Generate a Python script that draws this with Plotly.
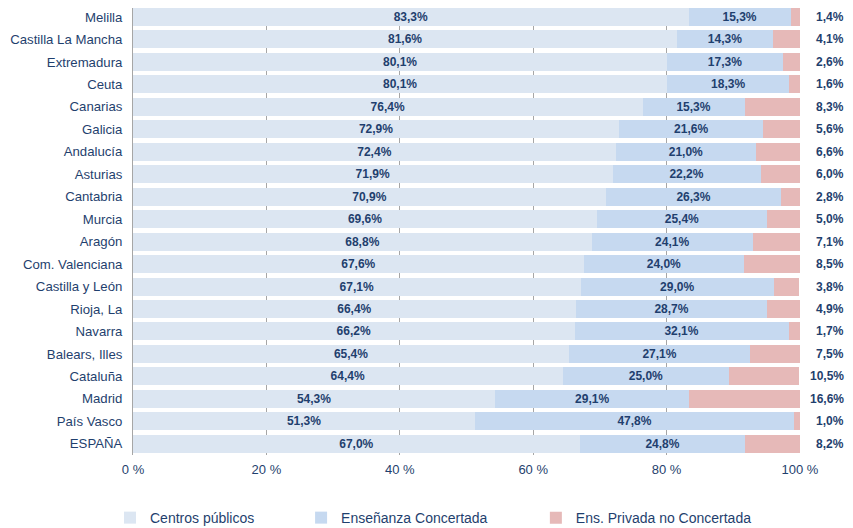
import plotly.graph_objects as go

regions = ["Melilla", "Castilla La Mancha", "Extremadura", "Ceuta", "Canarias", "Galicia",
           "Andalucía", "Asturias", "Cantabria", "Murcia", "Aragón", "Com. Valenciana",
           "Castilla y León", "Rioja, La", "Navarra", "Balears, Illes", "Cataluña", "Madrid",
           "País Vasco", "ESPAÑA"]
publicos = [83.3, 81.6, 80.1, 80.1, 76.4, 72.9, 72.4, 71.9, 70.9, 69.6, 68.8, 67.6,
            67.1, 66.4, 66.2, 65.4, 64.4, 54.3, 51.3, 67.0]
concertada = [15.3, 14.3, 17.3, 18.3, 15.3, 21.6, 21.0, 22.2, 26.3, 25.4, 24.1, 24.0,
              29.0, 28.7, 32.1, 27.1, 25.0, 29.1, 47.8, 24.8]
privada = [1.4, 4.1, 2.6, 1.6, 8.3, 5.6, 6.6, 6.0, 2.8, 5.0, 7.1, 8.5,
           3.8, 4.9, 1.7, 7.5, 10.5, 16.6, 1.0, 8.2]
series_names = ["Centros públicos", "Enseñanza Concertada", "Ens. Privada no Concertada"]
x_ticks = [0, 20, 40, 60, 80, 100]
x_tick_labels = ["0 %", "20 %", "40 %", "60 %", "80 %", "100 %"]

NAVY = "#1f3f6e"
FONT = "Liberation Sans, Arial, sans-serif"

def fmt(v):
    return f"{v:.1f}".replace(".", ",") + "%"

fig = go.Figure()
fig.add_trace(go.Bar(
    y=regions, x=publicos, orientation="h", name=series_names[0], legend="legend",
    marker=dict(color="#dce6f2", line=dict(width=0)),
    text=[f"<b>{fmt(v)}</b>" for v in publicos], textposition="inside",
    insidetextanchor="middle", textfont=dict(color=NAVY, size=12, family=FONT),
    hoverinfo="skip"))
fig.add_trace(go.Bar(
    y=regions, x=concertada, orientation="h", name=series_names[1], legend="legend2",
    marker=dict(color="#c6d9f0", line=dict(width=0)),
    text=[f"<b>{fmt(v)}</b>" for v in concertada], textposition="inside",
    insidetextanchor="middle", textfont=dict(color=NAVY, size=12, family=FONT),
    hoverinfo="skip"))
fig.add_trace(go.Bar(
    y=regions, x=privada, orientation="h", name=series_names[2], legend="legend3",
    marker=dict(color="#e6b9b8", line=dict(width=0)),
    hoverinfo="skip"))

for r, v in zip(regions, privada):
    fig.add_annotation(x=1, xref="paper", y=r, yref="y", text=f"<b>{fmt(v)}</b>",
                       showarrow=False, xanchor="right", xshift=46,
                       font=dict(color=NAVY, size=12, family=FONT))

leg_common = dict(orientation="h", y=-0.141, yanchor="middle", xanchor="left",
                  font=dict(size=14, color=NAVY, family=FONT), bgcolor="rgba(0,0,0,0)")

fig.update_layout(
    barmode="stack", bargap=0.2,
    width=845, height=520,
    margin=dict(l=125, r=53, t=0, b=73, autoexpand=False),
    paper_bgcolor="white", plot_bgcolor="white",
    font=dict(family=FONT, color=NAVY, size=13),
    uniformtext=dict(minsize=12, mode="show"),
    xaxis=dict(range=[0, 100], tickvals=x_ticks, ticktext=x_tick_labels,
               showgrid=True, gridcolor="#a6a6a6", gridwidth=1,
               zeroline=False, showline=False, ticklabelstandoff=5,
               tickfont=dict(size=13, color=NAVY), fixedrange=True),
    yaxis=dict(range=[19.5, -0.4], showline=True, linecolor="#a6a6a6", linewidth=1,
               ticks="", ticklabelstandoff=7, automargin=False,
               tickfont=dict(size=13.2, color=NAVY)),
    legend=dict(x=-0.0345, **leg_common),
    legend2=dict(x=0.252, **leg_common),
    legend3=dict(x=0.604, **leg_common),
    showlegend=True,
)

fig.write_html("out.html")
